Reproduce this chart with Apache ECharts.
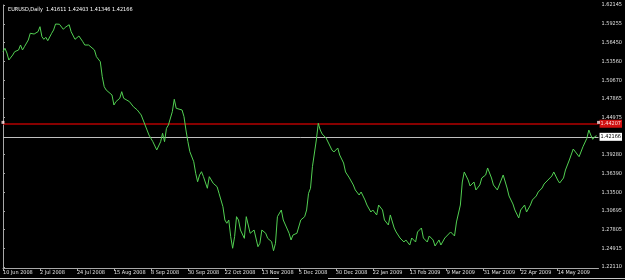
<!DOCTYPE html>
<html>
<head>
<meta charset="utf-8">
<script src="https://cdn.jsdelivr.net/npm/echarts@6/dist/echarts.min.js"></script>
<style>
  html, body { margin: 0; padding: 0; background: #000; }
  #chart { width: 625px; height: 280px; }
</style>
</head>
<body>
<div id="chart"></div>
<script>
// ---- data ----
const headerText = "EURUSD,Daily  1.41611 1.42403 1.41346 1.42166";

const dateLabels = ["10 Jun 2008","2 Jul 2008","24 Jul 2008","15 Aug 2008","8 Sep 2008",
  "30 Sep 2008","22 Oct 2008","13 Nov 2008","5 Dec 2008","30 Dec 2008","22 Jan 2009",
  "13 Feb 2009","9 Mar 2009","31 Mar 2009","22 Apr 2009","14 May 2009"];
const barsPerLabel = 19;
const totalBars = 306;

const priceTicks = [1.22110, 1.24915, 1.27805, 1.30695, 1.33500, 1.36390, 1.39280,
  1.44975, 1.47865, 1.50670, 1.53560, 1.56450, 1.59255, 1.62145];

const bars = [0,1,2,3,5,6,8,9,10,11,13,14,16,18,19,20,21,22,23,25,26,27,29,30,31,32,33,34,35,37,
  38,39,41,42,44,45,47,48,50,51,52,53,54,56,57,58,60,61,62,63,65,67,69,71,72,73,75,77,79,80,
  81,82,83,84,85,87,88,89,90,92,93,94,95,96,98,99,100,101,102,103,105,106,107,108,110,111,113,114,115,116,
  117,118,119,120,121,122,124,125,126,127,129,130,131,132,133,135,136,138,139,140,141,143,144,145,147,148,149,151,152,153,
  155,156,157,158,159,161,162,163,164,166,167,169,170,172,173,175,176,178,180,181,183,184,186,187,189,190,192,193,195,196,
  198,199,201,202,204,206,207,209,210,212,213,215,216,218,219,221,222,224,225,227,228,230,232,233,235,236,237,239,240,242,
  243,245,246,248,249,251,252,254,256,257,259,260,262,263,265,266,268,269,271,272,274,275,277,278,280,282,283,285,286,288,
  289,291,293,294,296,298,300,301,302,303,304,305];

const closes = [1.5501,1.5553,1.5481,1.5374,1.5450,1.5501,1.5527,1.5603,1.5527,1.5577,1.5680,1.5782,1.5771,1.5807,1.5883,1.5730,1.5690,1.5721,1.5669,1.5782,1.5833,1.5924,1.5920,1.5894,1.5843,1.5874,1.5848,1.5913,1.5807,1.5690,
  1.5706,1.5741,1.5654,1.5603,1.5603,1.5577,1.5527,1.5425,1.5348,1.5119,1.4966,1.4916,1.4916,1.4839,1.4686,1.4737,1.4789,1.4890,1.4789,1.4813,1.4737,1.4660,1.4610,1.4534,1.4508,1.4381,1.4228,1.4126,1.3999,1.4025,
  1.4126,1.4254,1.4126,1.4330,1.4381,1.4584,1.4774,1.4636,1.4610,1.4610,1.4508,1.4304,1.4126,1.3973,1.3820,1.3643,1.3514,1.3617,1.3667,1.3591,1.3414,1.3591,1.3617,1.3490,1.3438,1.3337,1.3132,1.2929,1.2879,1.2929,
  1.2674,1.2497,1.2674,1.2980,1.2929,1.2776,1.2649,1.2980,1.2955,1.2726,1.2776,1.2750,1.2521,1.2573,1.2776,1.2726,1.2649,1.2598,1.2460,1.2573,1.2980,1.3082,1.2929,1.2903,1.2726,1.2624,1.2700,1.2726,1.2726,1.2929,
  1.2980,1.3082,1.3337,1.3414,1.3744,1.4152,1.4407,1.4304,1.4243,1.4182,1.4152,1.3999,1.3968,1.4029,1.3922,1.3800,1.3663,1.3571,1.3464,1.3388,1.3311,1.3357,1.3235,1.3158,1.3051,1.3082,1.3006,1.3158,1.3082,1.2929,
  1.2853,1.3006,1.2807,1.2746,1.2654,1.2593,1.2624,1.2547,1.2654,1.2593,1.2746,1.2807,1.2654,1.2593,1.2685,1.2624,1.2532,1.2624,1.2547,1.2654,1.2624,1.2746,1.2685,1.2899,1.3158,1.3510,1.3663,1.3540,1.3449,1.3510,
  1.3388,1.3464,1.3571,1.3617,1.3724,1.3571,1.3464,1.3388,1.3540,1.3617,1.3418,1.3296,1.3174,1.3082,1.2960,1.3082,1.3158,1.3051,1.3158,1.3235,1.3296,1.3357,1.3418,1.3479,1.3540,1.3601,1.3663,1.3540,1.3494,1.3571,
  1.3693,1.3846,1.4014,1.3999,1.3896,1.4049,1.4178,1.4304,1.4228,1.4162,1.4202,1.42166];

const redLevel = 1.44207;
const lastPrice = 1.42166;
const yMin = 1.21956;
const yMax = 1.62145;

// ---- chart ----
const FONT = '"Liberation Sans Narrow", "DejaVu Sans Condensed", "Liberation Sans", sans-serif';
const FS = 5.5;
const lineData = bars.map((b, i) => [b, closes[i]]);
const labelTicks = dateLabels.map((_, i) => i * barsPerLabel);

const chart = echarts.init(document.getElementById('chart'), null, { renderer: 'canvas' });
chart.setOption({
  backgroundColor: '#000000',
  animation: false,
  title: {
    text: headerText, left: 3, top: 2,
    textStyle: { color: '#ffffff', fontSize: FS, fontWeight: 'normal', fontFamily: FONT }
  },
  graphic: [
    { type: 'line', shape: { x1: 0, y1: 278.5, x2: 279, y2: 278.5 }, style: { stroke: '#c8c8c8', lineWidth: 1 }, silent: true },
    { type: 'line', shape: { x1: 328, y1: 278.5, x2: 625, y2: 278.5 }, style: { stroke: '#c8c8c8', lineWidth: 1 }, silent: true }
  ],
  grid: { left: 1, right: 24, top: 5, bottom: 12 },
  xAxis: {
    type: 'value', min: 0, max: totalBars, interval: barsPerLabel,
    axisLine: { show: true, lineStyle: { color: '#a8a8a8', width: 1 } },
    axisTick: { show: true, length: 3, lineStyle: { color: '#a8a8a8' }, customValues: labelTicks },
    splitLine: { show: false },
    axisLabel: {
      customValues: labelTicks, showMinLabel: true, hideOverlap: false,
      color: '#e0e0e0', fontSize: FS, fontFamily: FONT, align: 'left', margin: 2,
      formatter: v => {
        const i = Math.round(v / barsPerLabel);
        return (Math.abs(v - i * barsPerLabel) < 1e-6 && dateLabels[i]) ? dateLabels[i] : '';
      }
    }
  },
  yAxis: {
    type: 'value', position: 'right', min: yMin, max: yMax, scale: true,
    axisLine: { show: true, lineStyle: { color: '#a8a8a8', width: 1 } },
    axisTick: { show: true, length: 2, lineStyle: { color: '#a8a8a8' }, customValues: priceTicks },
    splitLine: { show: false },
    axisLabel: {
      customValues: priceTicks,
      color: '#e0e0e0', fontSize: FS, fontFamily: FONT, margin: 3,
      formatter: v => v.toFixed(5)
    }
  },
  series: [
    {
      type: 'line', data: lineData, showSymbol: false, symbol: 'none',
      lineStyle: { color: '#52d052', width: 1 },
      z: 5,
      markLine: {
        silent: true, symbol: ['none', 'none'], animation: false,
        data: [
          {
            yAxis: redLevel,
            lineStyle: { color: '#b40000', width: 1.5, type: 'solid' },
            label: {
              show: true, position: 'end', distance: 1, formatter: redLevel.toFixed(5),
              color: '#ffdada', backgroundColor: '#d01010', fontSize: FS, fontFamily: FONT,
              padding: [1, 1, 1, 1]
            }
          },
          {
            yAxis: lastPrice,
            lineStyle: { color: '#c0c0c0', width: 1, type: 'solid' },
            label: {
              show: true, position: 'end', distance: 1, formatter: lastPrice.toFixed(5),
              color: '#000000', backgroundColor: '#ffffff', fontSize: FS, fontFamily: FONT,
              padding: [1, 1, 1, 1]
            }
          }
        ]
      }
    },
    {
      type: 'scatter', data: [[0, redLevel], [totalBars, redLevel]],
      symbol: 'rect', symbolSize: [3, 3], clip: false,
      itemStyle: { color: '#ffe0e0' }, silent: true, z: 6
    }
  ]
});
</script>
</body>
</html>
